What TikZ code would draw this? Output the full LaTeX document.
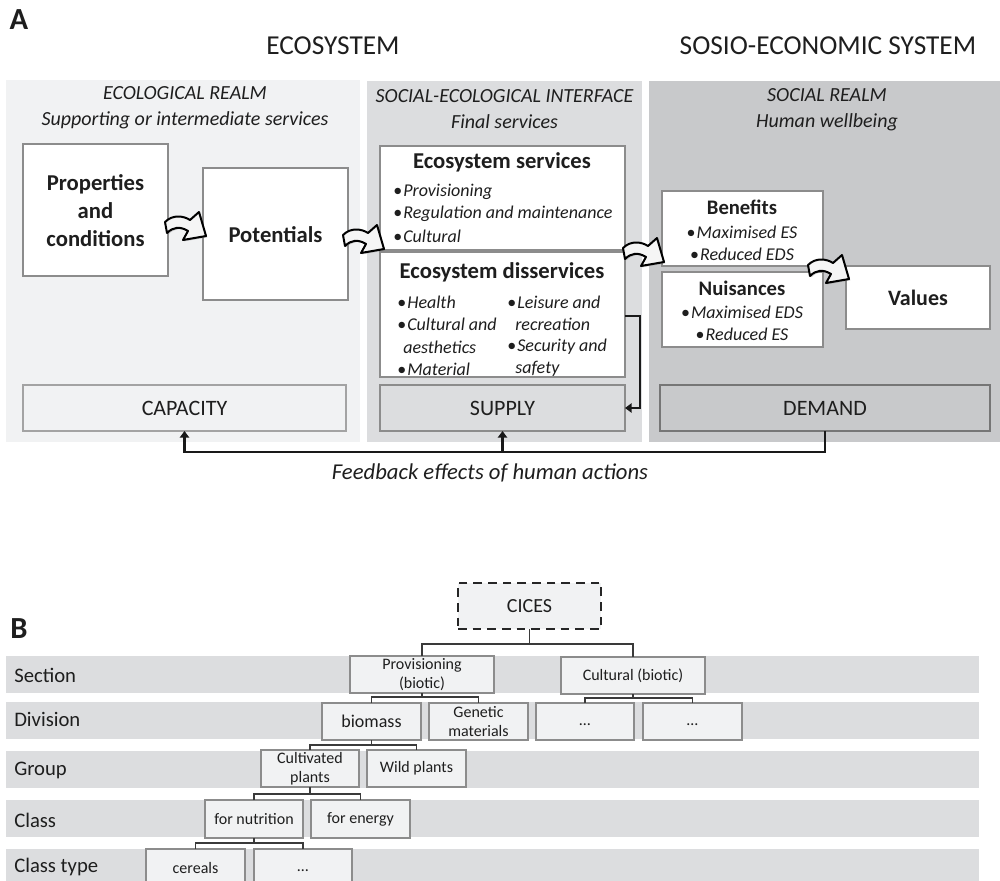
\documentclass[tikz,border=0pt]{standalone}
\usepackage{fontspec}
\setmainfont{Carlito}
\usetikzlibrary{fit,arrows.meta,shadows}

\definecolor{ecoFill}{HTML}{F1F2F3}
\definecolor{intFill}{HTML}{DCDDDF}
\definecolor{socFill}{HTML}{C8C9CB}
\definecolor{rimGray}{HTML}{8C8C8C}
\definecolor{darkRim}{HTML}{767676}
\definecolor{inkGray}{HTML}{1E1E1E}
\definecolor{bandFill}{HTML}{DCDDDF}
\definecolor{leafFill}{HTML}{F1F2F3}
\definecolor{twigGray}{HTML}{3A3A3A}

\newcommand{\pxfont}[2]{\fontsize{#1}{#2}\selectfont}
\newcommand{\itembul}{{\upshape\textbullet}\kern0.8pt}

\tikzset{
  area/.style={inner sep=0pt, outer sep=0pt, draw=none},
  wbox/.style={inner sep=0pt, outer sep=0pt, draw=rimGray, line width=1.5pt, fill=white},
  lvlbox/.style={inner sep=0pt, outer sep=0pt, draw=rimGray, line width=1.5pt},
  leaf/.style={inner sep=0pt, outer sep=0pt, draw=rimGray, line width=1.5pt, fill=leafFill},
  band/.style={inner sep=0pt, outer sep=0pt, draw=none, fill=bandFill},
  txt/.style={inner sep=0pt, text=inkGray},
  headtxt/.style={txt, align=center, font=\itshape\pxfont{15}{19.5}},
  titletxt/.style={txt, align=center, font=\bfseries\pxfont{17}{21}},
  itemtxt/.style={txt, anchor=west, font=\itshape\pxfont{13.5}{16}},
  citem/.style={txt, font=\itshape\pxfont{13.5}{16}},
  lvltxt/.style={txt, font=\pxfont{16.5}{20}},
  rowtxt/.style={txt, anchor=west, font=\pxfont{15.5}{18}},
  leaftxt/.style={txt, align=center, font=\pxfont{12}{14.4}},
  fbline/.style={draw=black!90, line width=2.2pt, -{Triangle[width=7pt,length=5pt]}},
  twig/.style={draw=twigGray, line width=0.8pt},
  bendarrow/.pic={
    \path[draw=black, line width=1.5pt, fill=black!4, line join=round,
      drop shadow={shadow xshift=1pt, shadow yshift=-1pt, opacity=0.4}]
      (0,-5) .. controls (8,-13) and (19,-11) .. (25,-7) -- (34,-15) -- (41,9)
      -- (18,13) -- (23,4) .. controls (15,-1) and (8,0) .. (2,6) -- cycle;
  }
}

\begin{document}
\begin{tikzpicture}[x=0.75pt,y=-0.75pt]
\useasboundingbox (0,0) rectangle (1000,881);
\clip (0,0) rectangle (1000,881);

% ---------------- Part A ----------------
\node[txt, font=\bfseries\pxfont{23}{27}] (labA) at (19,20) {A};
\node[txt, font=\pxfont{20.5}{24}] (hEco) at (333,46) {ECOSYSTEM};
\node[txt, font=\pxfont{20.5}{24}] (hSoc) at (828,46) {SOSIO-ECONOMIC SYSTEM};

% three realms
\node[area, fill=ecoFill, fit={(6,80) (360,442)}] (pEco) {};
\node[area, fill=intFill, fit={(367,81) (642,442)}] (pInt) {};
\node[area, fill=socFill, fit={(649,81) (1000,442)}] (pSoc) {};

\node[headtxt] (tEco) at (185,108) {ECOLOGICAL REALM\\Supporting or intermediate services};
\node[headtxt] (tInt) at (504.5,109.5) {SOCIAL-ECOLOGICAL INTERFACE\\Final services};
\node[headtxt] (tSoc) at (827,110) {SOCIAL REALM\\Human wellbeing};

% content boxes
\node[wbox, fit={(23,144) (168,276)}] (prop) {};
\node[wbox, fit={(203,168) (348,300)}] (pot) {};
\node[wbox, fit={(380,146) (625,250)}] (es) {};
\node[wbox, fit={(380,252) (625,377)}] (eds) {};
\node[wbox, fit={(662,191) (823,266)}] (ben) {};
\node[wbox, fit={(662,272) (823,347)}] (nui) {};
\node[wbox, fit={(846,266) (990,329)}] (val) {};

\node[titletxt] (propT) at (95.5,211) {Properties\\and\\conditions};
\node[titletxt] (potT) at (275.5,235) {Potentials};

\node[titletxt] (esT) at (502,162) {Ecosystem services};
\node[itemtxt] (es1) at (393,192) {\itembul Provisioning};
\node[itemtxt] (es2) at (393,214) {\itembul Regulation and maintenance};
\node[itemtxt] (es3) at (393,236) {\itembul Cultural};

\node[titletxt] (edsT) at (502,272) {Ecosystem disservices};
\node[itemtxt] (ed1) at (397,302) {\itembul Health};
\node[itemtxt] (ed2) at (397,324) {\itembul Cultural and};
\node[itemtxt] (ed3) at (403,347) {aesthetics};
\node[itemtxt] (ed4) at (397,369) {\itembul Material};
\node[itemtxt] (ed5) at (507,302) {\itembul Leisure and};
\node[itemtxt] (ed6) at (515,324) {recreation};
\node[itemtxt] (ed7) at (507,347) {\itembul Security and};
\node[itemtxt] (ed8) at (515,369) {safety};

\node[txt, font=\bfseries\pxfont{15.5}{19}] (benT) at (742,207) {Benefits};
\node[citem] (ben1) at (742,232) {\itembul Maximised ES};
\node[citem] (ben2) at (742,254) {\itembul Reduced EDS};

\node[txt, font=\bfseries\pxfont{15.5}{19}] (nuiT) at (742,288) {Nuisances};
\node[citem] (nui1) at (742,312) {\itembul Maximised EDS};
\node[citem] (nui2) at (742,334) {\itembul Reduced ES};

\node[txt, font=\bfseries\pxfont{16.5}{20}] (valT) at (918,298) {Values};

% capacity / supply / demand
\node[lvlbox, fill=ecoFill, draw=rimGray!80, fit={(23,385) (346,431)}] (cap) {};
\node[lvlbox, fill=intFill, fit={(380,385) (625,431)}] (sup) {};
\node[lvlbox, fill=socFill, draw=darkRim, fit={(660,385) (990,431)}] (dem) {};
\node[lvltxt] (capT) at (cap.center) {CAPACITY};
\node[lvltxt] (supT) at (sup.center) {SUPPLY};
\node[lvltxt] (demT) at (dem.center) {DEMAND};

% flow arrows between stages
\pic at (165,227) {bendarrow};
\pic at (343,240) {bendarrow};
\pic at (623,253) {bendarrow};
\pic at (808,270) {bendarrow};

% disservices feed the supply
\coordinate (dsTurn) at (640,316);
\draw[fbline] (eds.east |- dsTurn) -- (dsTurn) |- (sup.east);

% feedback loop
\coordinate (fbRow) at (0,452);
\draw[fbline] (dem.south) |- (cap.south |- fbRow) -- (cap.south);
\draw[fbline] (sup.south |- fbRow) -- (sup.south);
\node[txt, font=\itshape\pxfont{17}{20}] (fbT) at (490,473) {Feedback effects of human actions};

% ---------------- Part B ----------------
\node[txt, font=\bfseries\pxfont{23}{27}] (labB) at (19,629) {B};

\node[band, fit={(6,656) (979,693)}] (rSec) {};
\node[band, fit={(6,702) (979,739)}] (rDiv) {};
\node[band, fit={(6,751) (979,788)}] (rGrp) {};
\node[band, fit={(6,800) (979,837)}] (rCls) {};
\node[band, fit={(6,849) (979,895)}] (rTyp) {};

\node[rowtxt] (lSec) at (14,675) {Section};
\node[rowtxt] (lDiv) at (14,719) {Division};
\node[rowtxt] (lGrp) at (14,770) {Group};
\node[rowtxt] (lCls) at (14,820) {Class};
\node[rowtxt] (lTyp) at (14,867) {Class type};

\node[leaf, draw=black!85, line width=1.9pt, dash pattern=on 6.5pt off 4.5pt,
      fit={(458,583) (601,629)}] (cices) {};
\node[txt, font=\pxfont{15}{18}] (cicesT) at (cices.center) {CICES};

\node[leaf, fit={(350,656) (494,693)}] (prov) {};
\node[leaf, fit={(561,657) (705,694)}] (cult) {};
\node[leaf, fit={(322,703) (421,740)}] (bio) {};
\node[leaf, fit={(429,703) (528,740)}] (gen) {};
\node[leaf, fit={(536,703) (634,740)}] (dA) {};
\node[leaf, fit={(643,703) (742,740)}] (dB) {};
\node[leaf, fit={(261,750) (359,787)}] (cultv) {};
\node[leaf, fit={(367,750) (466,787)}] (wild) {};
\node[leaf, fit={(205,800) (303,838)}] (nutr) {};
\node[leaf, fit={(311,800) (410,838)}] (enrg) {};
\node[leaf, fit={(146,849) (245,895)}] (cer) {};
\node[leaf, fit={(254,849) (352,895)}] (etc) {};

\node[leaftxt] (provT) at (prov.center) {Provisioning\\(biotic)};
\node[leaftxt] (cultT) at (cult.center) {Cultural (biotic)};
\node[leaftxt, font=\pxfont{13.5}{16}] (bioT) at (bio.center) {biomass};
\node[leaftxt] (genT) at (gen.center) {Genetic\\materials};
\node[leaftxt] (dAT) at (dA.center) {\vphantom{Ag}\ldots};
\node[leaftxt] (dBT) at (dB.center) {\vphantom{Ag}\ldots};
\node[leaftxt] (cultvT) at (cultv.center) {Cultivated\\plants};
\node[leaftxt] (wildT) at (wild.center) {Wild plants};
\node[leaftxt] (nutrT) at (nutr.center) {for nutrition};
\node[leaftxt] (enrgT) at (enrg.center) {for energy};
\node[leaftxt] (cerT) at (195.5,868) {cereals};
\node[leaftxt] (etcT) at (303,868) {\vphantom{Ag}\ldots};

% hierarchy links
\coordinate (busA) at (0,644);
\coordinate (busB) at (0,697);
\coordinate (busC) at (0,698);
\coordinate (busD) at (0,745);
\coordinate (busE) at (0,794);
\coordinate (busF) at (0,843);

\draw[twig] (cices.south) -- (cices.south |- busA);
\draw[twig] (prov.north) |- (cult.north |- busA) -- (cult.north);

\draw[twig] (prov.south) -- (prov.south |- busB);
\draw[twig] (bio.north) |- (gen.north |- busB) -- (gen.north);

\draw[twig] (cult.south) -- (cult.south |- busC);
\draw[twig] (dA.north) |- (dB.north |- busC) -- (dB.north);

\draw[twig] (bio.south) -- (bio.south |- busD);
\draw[twig] (cultv.north) |- (wild.north |- busD) -- (wild.north);

\draw[twig] (cultv.south) -- (cultv.south |- busE);
\draw[twig] (nutr.north) |- (enrg.north |- busE) -- (enrg.north);

\draw[twig] (nutr.south) -- (nutr.south |- busF);
\draw[twig] (cer.north) |- (etc.north |- busF) -- (etc.north);

\end{tikzpicture}
\end{document}
